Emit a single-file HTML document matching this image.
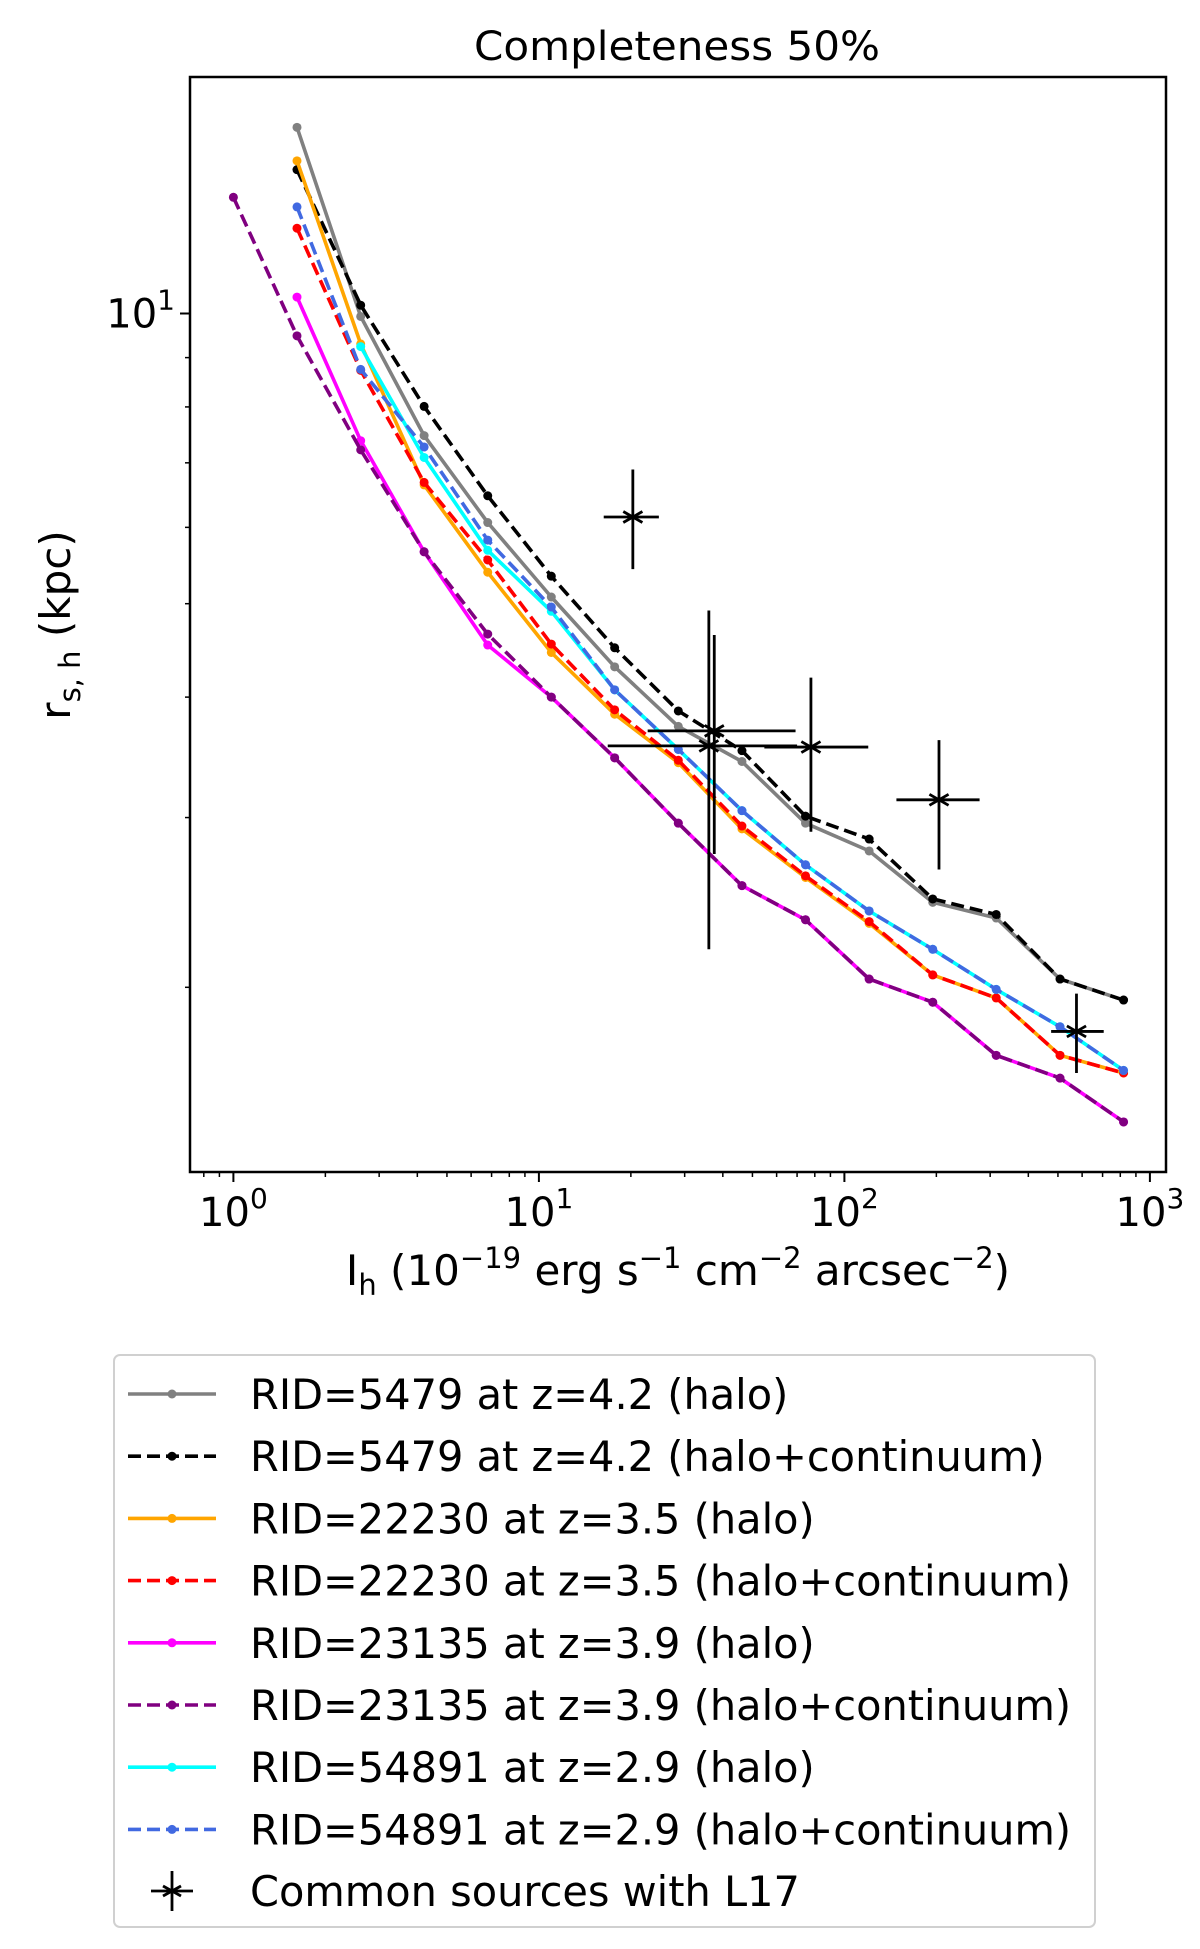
<!DOCTYPE html>
<html><head><meta charset="utf-8"><style>
html,body{margin:0;padding:0;background:#fff;}
svg{display:block;font-family:"DejaVu Sans","Liberation Sans",sans-serif;}
</style></head><body>
<svg id="chart" width="1200" height="1949" viewBox="0 0 1200 1949" xmlns="http://www.w3.org/2000/svg">
<rect width="1200" height="1949" fill="#fff"/>
<text x="677" y="60" font-size="40" text-anchor="middle" textLength="406" lengthAdjust="spacingAndGlyphs">Completeness 50%</text>
<g id="plot"></g>
<rect x="190" y="77" width="976" height="1095" fill="none" stroke="#000" stroke-width="2.5"/>
<g id="axes"></g>
<text x="678" y="1285" font-size="42" text-anchor="middle">I<tspan font-size="29" dy="10">h</tspan><tspan dy="-10"> (10</tspan><tspan font-size="29" dy="-17">−19</tspan><tspan dy="17"> erg s</tspan><tspan font-size="29" dy="-17">−1</tspan><tspan dy="17"> cm</tspan><tspan font-size="29" dy="-17">−2</tspan><tspan dy="17"> arcsec</tspan><tspan font-size="29" dy="-17">−2</tspan><tspan dy="17">)</tspan></text>
<text transform="translate(70,625) rotate(-90)" font-size="42" text-anchor="middle">r<tspan font-size="29" dy="10">s, h</tspan><tspan dy="-10"> (kpc)</tspan></text>
<g id="legend"></g>
</svg>
<script>
const xSteps = [1.615, 2.61, 4.21, 6.80, 10.98, 17.7, 28.6, 46.2, 74.6, 120.5, 194.6, 314, 508, 820];
const xPurple = [1.0].concat(xSteps);
const xCyan = xSteps.slice(1);
const grayHalo = [15.6, 9.93, 7.47, 6.07, 5.08, 4.30, 3.73, 3.43, 2.96, 2.77, 2.45, 2.36, 2.04, 1.94];
const blackCont = [14.1, 10.2, 8.01, 6.47, 5.34, 4.50, 3.87, 3.52, 3.01, 2.85, 2.47, 2.38, 2.04, 1.94];
const orangeHalo = [14.4, 9.3, 6.64, 5.39, 4.45, 3.84, 3.42, 2.92, 2.60, 2.33, 2.06, 1.95, 1.70, 1.63];
const redCont = [12.26, 8.73, 6.68, 5.55, 4.54, 3.88, 3.44, 2.94, 2.61, 2.34, 2.06, 1.95, 1.70, 1.63];
const magentaHalo = [10.4, 7.38, 5.66, 4.53, 4.0, 3.46, 2.96, 2.55, 2.35, 2.04, 1.93, 1.70, 1.61, 1.45];
const purpleCont = [13.2, 9.48, 7.22, 5.66, 4.65, 4.0, 3.46, 2.96, 2.55, 2.35, 2.04, 1.93, 1.70, 1.61, 1.45];
const cyanHalo = [9.24, 7.09, 5.68, 4.91, 4.07, 3.53, 3.05, 2.68, 2.40, 2.19, 1.99, 1.82, 1.64];
const blueCont = [12.9, 8.75, 7.27, 5.82, 4.96, 4.07, 3.53, 3.05, 2.68, 2.40, 2.19, 1.99, 1.82, 1.64];
const starX = [20.3, 36.0, 37.5, 77.7, 204, 575];
const starY = [6.15, 3.56, 3.69, 3.55, 3.13, 1.80];
const starXlo = [16.3, 16.8, 22.7, 54.7, 148, 475];
const starXhi = [24.7, 70, 69.2, 119.7, 277, 706];
const starYlo = [5.43, 2.19, 2.75, 2.90, 2.65, 1.63];
const starYhi = [6.89, 4.92, 4.64, 4.19, 3.61, 1.97];
const xTickLabels = ["0", "1", "2", "3"];

const NS = "http://www.w3.org/2000/svg";
function X(v){ return 233.4 + 305.5*Math.log10(v); }
function Y(v){ return 313.5 - 964*Math.log10(v/10); }
function mk(tag, attrs, parent){ const e=document.createElementNS(NS,tag); for(const k in attrs) e.setAttribute(k,attrs[k]); parent.appendChild(e); return e; }

const plot = document.getElementById('plot');
const series = [
 {n:'rid5479-halo', xs:xSteps, ys:grayHalo, c:'#808080', d:null},
 {n:'rid5479-halo-continuum', xs:xSteps, ys:blackCont, c:'#000000', d:'13,6'},
 {n:'rid22230-halo', xs:xSteps, ys:orangeHalo, c:'#ffa500', d:null},
 {n:'rid22230-halo-continuum', xs:xSteps, ys:redCont, c:'#ff0000', d:'13,6'},
 {n:'rid23135-halo', xs:xSteps, ys:magentaHalo, c:'#ff00ff', d:null},
 {n:'rid23135-halo-continuum', xs:xPurple, ys:purpleCont, c:'#800080', d:'13,6'},
 {n:'rid54891-halo', xs:xCyan, ys:cyanHalo, c:'#00ffff', d:null},
 {n:'rid54891-halo-continuum', xs:xSteps, ys:blueCont, c:'#4169e1', d:'13,6'}
];
series.forEach(s=>{
  const g = mk('g',{},plot);
  
  
  const pts = s.xs.map((x,i)=>X(x).toFixed(1)+','+Y(s.ys[i]).toFixed(1)).join(' ');
  const pl = mk('polyline',{points:pts,fill:'none',stroke:s.c,'stroke-width':3.6,'stroke-linejoin':'round'},g);
  if(s.d) pl.setAttribute('stroke-dasharray', s.d);
  
  
  s.xs.forEach((x,i)=>{
    const c = mk('circle',{cx:X(x),cy:Y(s.ys[i]),r:4.5,fill:s.c},g);
    
    
  });
});
starX.forEach((sx,i)=>{
  const g = mk('g',{stroke:'#000','stroke-width':2.8,fill:'none'},plot);
  
  
  const cx=X(sx), cy=Y(starY[i]);
  mk('line',{x1:X(starXlo[i]),y1:cy,x2:X(starXhi[i]),y2:cy},g);
  mk('line',{x1:cx,y1:Y(starYlo[i]),x2:cx,y2:Y(starYhi[i])},g);
  const r=11;
  mk('line',{x1:cx-r*0.87,y1:cy-r*0.5,x2:cx+r*0.87,y2:cy+r*0.5},g);
  mk('line',{x1:cx-r*0.87,y1:cy+r*0.5,x2:cx+r*0.87,y2:cy-r*0.5},g);
});
const axes = document.getElementById('axes');
const yb = 1172;
for(let e=-1;e<=3;e++){
  for(let m=1;m<10;m++){
    const v=m*Math.pow(10,e); const x=X(v);
    if(x<190||x>1166) continue;
    const major = m===1;
    const t = mk('line',{x1:x,y1:yb,x2:x,y2:yb+(major?10:5),stroke:'#000','stroke-width':major?2:1.5},axes);
    
    
  }
}
xTickLabels.forEach((p,i)=>{
  const x = X(Math.pow(10,i));
  const t = mk('text',{x:x,y:1226,'font-size':40,'text-anchor':'middle'},axes);
  
  
  t.innerHTML = '10<tspan font-size="28" dy="-18">'+p+'</tspan>';
});
for(let m=1;m<=9;m++){
  const v = m===1?10:m; const y=Y(v);
  if(y<77||y>1172) continue;
  const major = v===10;
  const t = mk('line',{x1:190,y1:y,x2:190-(major?10:5),y2:y,stroke:'#000','stroke-width':major?2:1.5},axes);
  
  
}
const yl = mk('text',{x:175,y:Y(10)+14,'font-size':40,'text-anchor':'end'},axes);


yl.innerHTML = '10<tspan font-size="28" dy="-18">1</tspan>';

const leg = document.getElementById('legend');
const lbox = mk('rect',{x:114,y:1355,width:981,height:572,rx:6,fill:'#fff',stroke:'#d0d0d0','stroke-width':2},leg);


const labels = ['RID=5479 at z=4.2 (halo)','RID=5479 at z=4.2 (halo+continuum)','RID=22230 at z=3.5 (halo)','RID=22230 at z=3.5 (halo+continuum)','RID=23135 at z=3.9 (halo)','RID=23135 at z=3.9 (halo+continuum)','RID=54891 at z=2.9 (halo)','RID=54891 at z=2.9 (halo+continuum)'];
labels.forEach((lab,i)=>{
  const y = 1394 + i*62.2;
  const s = series[i];
  const g = mk('g',{},leg);
  
  
  const l = mk('line',{x1:128,y1:y,x2:216,y2:y,stroke:s.c,'stroke-width':3.6},g);
  if(s.d) l.setAttribute('stroke-dasharray', s.d);
  mk('circle',{cx:172,cy:y,r:4.5,fill:s.c},g);
  const t = mk('text',{x:250,y:y+15,'font-size':41.5},g);
  t.textContent = lab;
});
const sy = 1891;
const sg = mk('g',{stroke:'#000','stroke-width':2.8},leg);


mk('line',{x1:172,y1:sy-20,x2:172,y2:sy+20},sg);
mk('line',{x1:163,y1:sy-5,x2:181,y2:sy+5},sg);
mk('line',{x1:163,y1:sy+5,x2:181,y2:sy-5},sg);
mk('line',{x1:151,y1:sy,x2:193,y2:sy},sg);
const st = mk('text',{x:250,y:sy+15,'font-size':41.5},leg);


st.textContent = 'Common sources with L17';
</script>
</body></html>
